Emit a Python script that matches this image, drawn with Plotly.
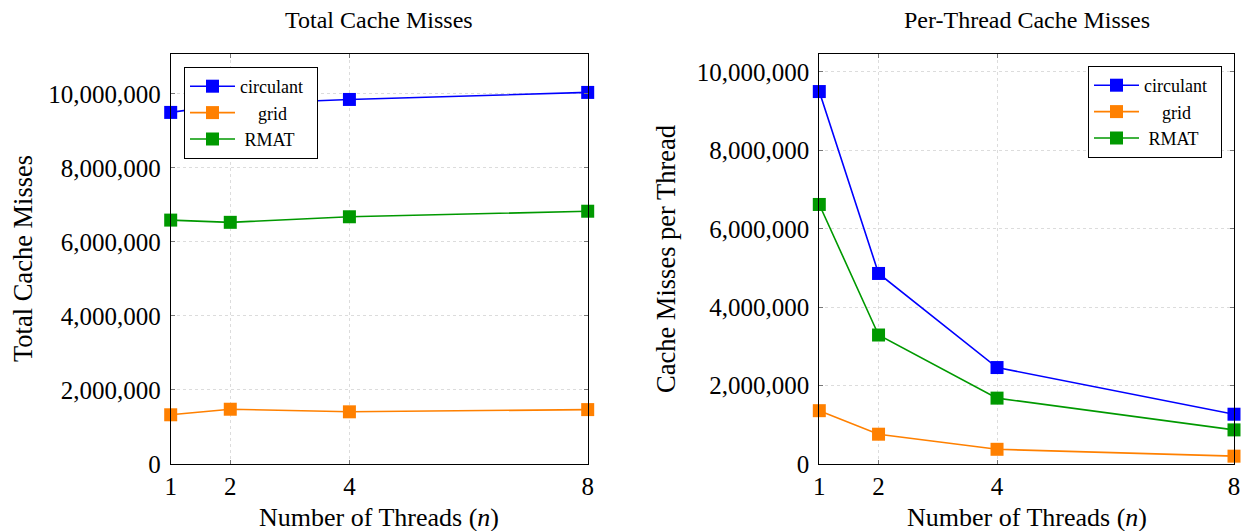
import plotly.graph_objects as go

threads = [1, 2, 4, 8]
series_names = ["circulant", "grid", "RMAT"]
legend_labels = ["circulant\u00a0\u00a0", "\u00a0\u00a0\u00a0\u00a0grid", "\u00a0RMAT"]

total_circulant = [9.50e6, 9.72e6, 9.85e6, 10.04e6]
total_grid = [1.33e6, 1.48e6, 1.41e6, 1.47e6]
total_rmat = [6.59e6, 6.53e6, 6.68e6, 6.83e6]

per_circulant = [9.50e6, 4.86e6, 2.46e6, 1.27e6]
per_grid = [1.36e6, 0.76e6, 0.375e6, 0.20e6]
per_rmat = [6.62e6, 3.29e6, 1.68e6, 0.87e6]

y_ticks = [0, 2e6, 4e6, 6e6, 8e6, 10e6]
titles = ["Total Cache Misses", "Per-Thread Cache Misses"]
y_titles = ["Total Cache Misses", "Cache Misses per Thread"]
x_title = "Number of Threads (<i>n</i>)"

colors = ["#0000ff", "#ff8000", "#009900"]
W, H = 1241, 531
SERIF = "Liberation Serif, Times New Roman, serif"

fig = go.Figure()

left = [total_circulant, total_grid, total_rmat]
right = [per_circulant, per_grid, per_rmat]

for i, lab in enumerate(legend_labels):
    fig.add_trace(go.Scatter(
        x=threads, y=left[i], name=lab, mode="lines+markers",
        line=dict(color=colors[i], width=1.6),
        marker=dict(symbol="square", size=13, color=colors[i]),
        xaxis="x", yaxis="y", legend="legend", cliponaxis=False,
    ))
for i, lab in enumerate(legend_labels):
    fig.add_trace(go.Scatter(
        x=threads, y=right[i], name=lab, mode="lines+markers",
        line=dict(color=colors[i], width=1.6),
        marker=dict(symbol="square", size=13, color=colors[i]),
        xaxis="x2", yaxis="y2", legend="legend2", cliponaxis=False,
    ))

def px_x(p):
    return p / W

def px_y(p):
    return 1 - p / H

top, bottom = 54.3, 464.0
ydom = [px_y(bottom), px_y(top)]

common_axis = dict(
    showline=True, linecolor="black", linewidth=1, mirror="allticks",
    ticks="inside", ticklen=4, tickcolor="#777777", tickwidth=1,
    showgrid=True, gridcolor="#dcdcdc", griddash="dot", gridwidth=1,
    zeroline=False, automargin=False,
    tickfont=dict(family=SERIF, size=25, color="black"),
)

fig.update_layout(
    template="none",
    width=W, height=H,
    margin=dict(l=0, r=0, t=0, b=0),
    paper_bgcolor="white", plot_bgcolor="white",
    xaxis=dict(domain=[px_x(170.7), px_x(587.7)], range=[1, 8],
               tickvals=threads, ticktext=[str(t) for t in threads],
               anchor="y", **common_axis),
    yaxis=dict(domain=ydom, range=[0, 11.07e6], tickvals=y_ticks,
               tickformat=",d", anchor="x", ticklabelstandoff=4, **common_axis),
    xaxis2=dict(domain=[px_x(819.3), px_x(1234.0)], range=[1, 8],
                tickvals=threads, ticktext=[str(t) for t in threads],
                anchor="y2", ticklabeloverflow="allow", **common_axis),
    yaxis2=dict(domain=ydom, range=[0, 10.45e6], tickvals=y_ticks,
                tickformat=",d", anchor="x2", ticklabelstandoff=4, **common_axis),
    legend=dict(x=px_x(184), y=px_y(67), xanchor="left", yanchor="top",
                bgcolor="white", bordercolor="black", borderwidth=1,
                font=dict(family=SERIF, size=18, color="black"),
                itemwidth=45),
    legend2=dict(x=px_x(1222), y=px_y(66), xanchor="right", yanchor="top",
                 bgcolor="white", bordercolor="black", borderwidth=1,
                 font=dict(family=SERIF, size=18, color="black"),
                 itemwidth=45),
    showlegend=True,
)

ann = []
for cx, t in zip([379.2, 1026.6], titles):
    ann.append(dict(text=t, x=px_x(cx), y=px_y(20), xref="paper", yref="paper",
                    showarrow=False, xanchor="center", yanchor="middle",
                    font=dict(family=SERIF, size=24, color="black")))
for cx in [379.2, 1026.6]:
    ann.append(dict(text=x_title, x=px_x(cx), y=px_y(517), xref="paper", yref="paper",
                    showarrow=False, xanchor="center", yanchor="middle",
                    font=dict(family=SERIF, size=26, color="black")))
for cx, t in zip([23, 666], y_titles):
    ann.append(dict(text=t, x=px_x(cx), y=px_y(259), xref="paper", yref="paper",
                    showarrow=False, xanchor="center", yanchor="middle", textangle=-90,
                    font=dict(family=SERIF, size=26.5, color="black")))
fig.update_layout(annotations=ann)

fig.write_html(
    "out.html",
    config={"displayModeBar": False},
    post_script="document.body.style.margin='0';document.body.style.overflow='hidden';",
)
